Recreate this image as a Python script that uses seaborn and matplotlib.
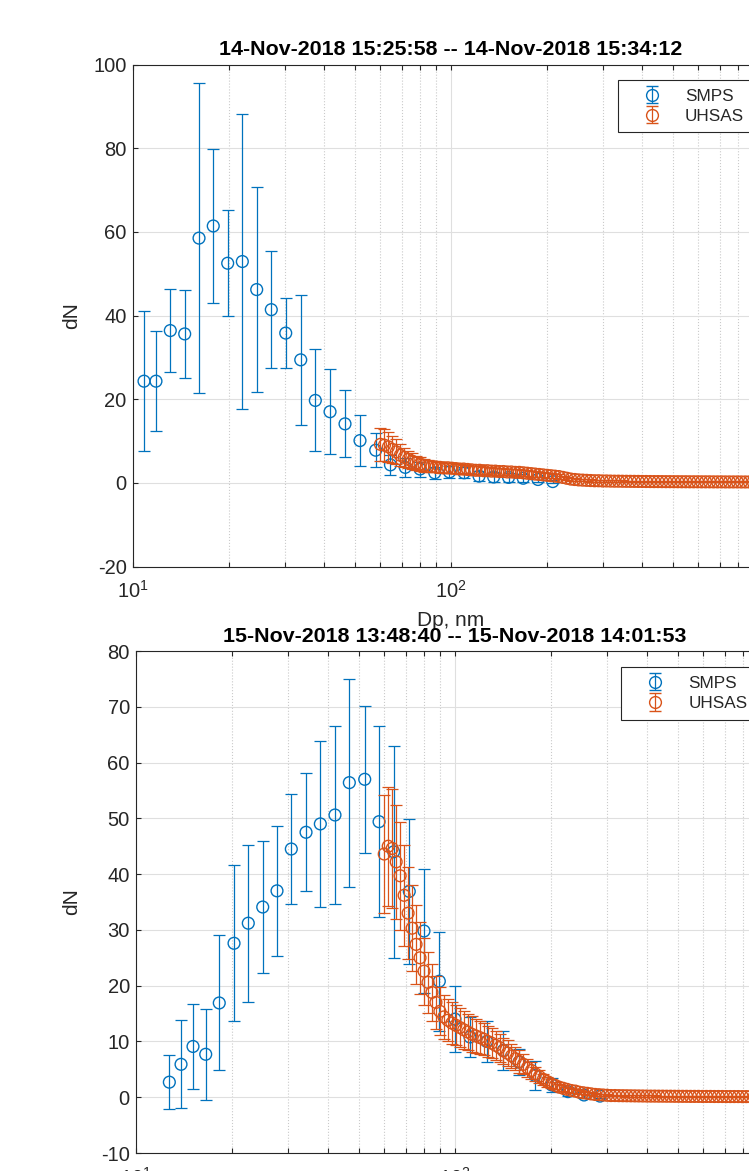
"""
Two SMPS / UHSAS size distributions (dN vs Dp) on log x axes,
drawn in the look of a MATLAB errorbar figure.
"""

import numpy as np
import pandas as pd
import matplotlib
matplotlib.use("Agg")
import matplotlib.pyplot as plt
from matplotlib.ticker import LogLocator, NullFormatter, FixedLocator
import seaborn as sns

SMPS_COLOR = "#0072BD"
UHSAS_COLOR = "#D95319"
AX_COLOR = "#262626"

# ---- panel 1: 14-Nov-2018 ----
title_top = "14-Nov-2018 15:25:58 -- 14-Nov-2018 15:34:12"
smps_dp_top = [10.83, 11.81, 13.10, 14.54, 16.13, 17.88, 19.85, 22.07, 24.49, 27.22,
               30.22, 33.69, 37.44, 41.65, 46.42, 51.74, 57.97, 64.5, 71.8, 79.9,
               88.9, 98.9, 110.0, 122.5, 136.2, 151.7, 168.7, 187.7, 208.9]
smps_dn_top = [24.3, 24.3, 36.4, 35.6, 58.5, 61.4, 52.5, 52.9, 46.2, 41.4,
               35.8, 29.4, 19.7, 17.0, 14.1, 10.1, 7.8, 4.3, 3.7, 3.3,
               2.4, 2.6, 2.4, 1.6, 1.4, 1.3, 1.1, 0.8, 0.3]
smps_err_top = [16.8, 12.0, 10.0, 10.5, 37.0, 18.4, 12.7, 35.2, 24.6, 14.0,
                8.4, 15.5, 12.2, 10.2, 8.0, 6.1, 4.0, 2.4, 2.2, 1.8,
                1.5, 1.5, 1.3, 1.2, 1.1, 1.0, 0.9, 0.7, 0.4]

# UHSAS bins (same for both scans)
uhsas_dp = [60.0, 61.75, 63.55, 65.40, 67.30, 69.26, 71.28, 73.35, 75.49, 77.69,
            79.95, 82.28, 84.67, 87.14, 89.68, 92.29, 94.98, 97.75, 100.6, 103.5,
            106.5, 109.6, 112.8, 116.1, 119.5, 123.0, 126.6, 130.2, 134.0, 137.9,
            141.9, 146.1, 150.3, 154.7, 159.2, 163.9, 168.7, 173.6, 178.6, 183.8,
            189.2, 194.7, 200.4, 206.2, 212.2, 218.4, 224.8, 231.3, 238.1, 245.0,
            252.1, 259.5, 267.0, 274.8, 282.8, 291.1, 299.6, 308.3, 317.3, 326.5,
            336.0, 345.8, 355.9, 366.3, 376.9, 387.9, 399.2, 410.8, 422.8, 435.1,
            447.8, 460.8, 474.2, 488.1, 502.3, 516.9, 532.0, 547.5, 563.4, 579.8,
            596.7, 614.1, 632.0, 650.4, 669.3, 688.8, 708.9, 729.5, 750.8, 772.6,
            795.1, 818.3, 842.1, 866.6, 891.9, 917.9, 944.6, 972.1, 1000.0]

uhsas_dn_top = [9.2, 9.0, 8.6, 8.0, 7.4, 6.6, 6.1, 5.6, 5.2, 4.8,
                4.5, 4.2, 4.0, 3.9, 3.8, 3.7, 3.6, 3.6, 3.5, 3.4,
                3.3, 3.3, 3.2, 3.1, 3.0, 3.0, 2.9, 2.9, 2.8, 2.8,
                2.7, 2.7, 2.6, 2.6, 2.5, 2.5, 2.4, 2.3, 2.2, 2.1,
                2.0, 1.9, 1.8, 1.7, 1.6, 1.5, 1.3, 1.1, 0.9, 0.8,
                0.7, 0.65, 0.6, 0.55, 0.5, 0.5, 0.45, 0.45, 0.42, 0.4,
                0.4, 0.38, 0.37, 0.36, 0.35, 0.34, 0.33, 0.32, 0.31, 0.3,
                0.3, 0.29, 0.28, 0.28, 0.27, 0.27, 0.26, 0.26, 0.25, 0.25,
                0.25, 0.24, 0.24, 0.24, 0.23, 0.23, 0.23, 0.22, 0.22, 0.22,
                0.22, 0.21, 0.21, 0.21, 0.21, 0.2, 0.2, 0.2, 0.2]
uhsas_err_top = [3.9, 3.8, 3.6, 3.3, 3.0, 2.6, 2.3, 2.1, 1.9, 1.7,
                 1.6, 1.5, 1.4, 1.35, 1.3, 1.25, 1.2, 1.2, 1.15, 1.1,
                 1.1, 1.05, 1.0, 1.0, 0.95, 0.95, 0.9, 0.9, 0.9, 0.85,
                 0.85, 0.85, 0.8, 0.8, 0.8, 0.75, 0.75, 0.7, 0.7, 0.65,
                 0.65, 0.6, 0.6, 0.55, 0.55, 0.5, 0.45, 0.4, 0.35, 0.32,
                 0.3, 0.28, 0.26, 0.25, 0.24, 0.23, 0.22, 0.21, 0.2, 0.2,
                 0.19, 0.19, 0.18, 0.18, 0.18, 0.17, 0.17, 0.17, 0.16, 0.16,
                 0.16, 0.16, 0.15, 0.15, 0.15, 0.15, 0.14, 0.14, 0.14, 0.14,
                 0.14, 0.13, 0.13, 0.13, 0.13, 0.13, 0.13, 0.12, 0.12, 0.12,
                 0.12, 0.12, 0.12, 0.12, 0.12, 0.12, 0.12, 0.12, 0.12]

# ---- panel 2: 15-Nov-2018 ----
title_bot = "15-Nov-2018 13:48:40 -- 15-Nov-2018 14:01:53"
smps_dp_bot = [12.72, 13.84, 15.09, 16.54, 18.24, 20.29, 22.49, 24.96, 27.67, 30.68,
               34.12, 37.83, 42.05, 46.64, 52.12, 57.8, 64.23, 71.89, 79.94, 89.3,
               100.0, 111.4, 125.7, 141.7, 158.7, 178.1, 201.0, 226.1, 253.8, 284.8]
smps_dn_bot = [2.7, 5.9, 9.1, 7.7, 16.9, 27.6, 31.2, 34.1, 37.0, 44.5,
               47.5, 49.0, 50.6, 56.4, 57.0, 49.4, 44.0, 36.9, 29.8, 20.8,
               14.0, 10.8, 10.0, 8.4, 6.3, 3.9, 2.2, 1.0, 0.4, 0.2]
smps_err_bot = [4.85, 7.9, 7.7, 8.2, 12.1, 13.95, 14.05, 11.85, 11.7, 9.9,
                10.6, 14.95, 15.9, 18.65, 13.15, 17.15, 19.05, 13.0, 11.15, 8.9,
                5.9, 3.5, 3.6, 3.5, 2.4, 2.6, 1.2, 0.8, 0.5, 0.3]

uhsas_dn_bot = [43.6, 45.0, 44.6, 42.2, 39.7, 36.2, 33.0, 30.3, 27.4, 25.0,
                22.6, 20.6, 18.8, 17.0, 15.4, 14.4, 13.8, 13.3, 12.9, 12.5,
                12.1, 11.7, 11.3, 11.0, 10.7, 10.4, 10.0, 9.7, 9.3, 8.9,
                8.3, 7.9, 7.4, 6.9, 6.4, 5.9, 5.3, 4.8, 4.2, 3.7,
                3.2, 2.8, 2.4, 2.1, 1.8, 1.6, 1.4, 1.2, 1.1, 0.9,
                0.8, 0.7, 0.6, 0.5, 0.45, 0.4, 0.35, 0.3, 0.3, 0.28,
                0.27, 0.26, 0.25, 0.24, 0.23, 0.22, 0.21, 0.2, 0.2, 0.19,
                0.19, 0.18, 0.18, 0.17, 0.17, 0.16, 0.16, 0.15, 0.15, 0.15,
                0.14, 0.14, 0.14, 0.13, 0.13, 0.13, 0.12, 0.12, 0.12, 0.12,
                0.11, 0.11, 0.11, 0.11, 0.1, 0.1, 0.1, 0.1, 0.1]
uhsas_err_bot = [10.5, 10.7, 10.6, 10.2, 9.7, 9.0, 8.3, 7.7, 7.1, 6.5,
                 6.0, 5.5, 5.1, 4.7, 4.3, 4.0, 3.8, 3.7, 3.6, 3.5,
                 3.4, 3.3, 3.2, 3.1, 3.0, 2.9, 2.8, 2.7, 2.6, 2.5,
                 2.4, 2.3, 2.2, 2.1, 2.0, 1.8, 1.6, 1.5, 1.3, 1.2,
                 1.0, 0.9, 0.8, 0.7, 0.6, 0.55, 0.5, 0.45, 0.4, 0.35,
                 0.3, 0.3, 0.25, 0.22, 0.2, 0.2, 0.18, 0.16, 0.15, 0.15,
                 0.14, 0.14, 0.13, 0.13, 0.13, 0.12, 0.12, 0.12, 0.11, 0.11,
                 0.11, 0.11, 0.1, 0.1, 0.1, 0.1, 0.1, 0.1, 0.09, 0.09,
                 0.09, 0.09, 0.09, 0.09, 0.09, 0.08, 0.08, 0.08, 0.08, 0.08,
                 0.08, 0.08, 0.08, 0.08, 0.08, 0.08, 0.08, 0.08, 0.08]

yticks_top = [-20, 0, 20, 40, 60, 80, 100]
yticks_bot = [-10, 0, 10, 20, 30, 40, 50, 60, 70, 80]

CAP = 4.0
MARKER_S = 72
LW = 0.9


def draw_series(ax, dp, dn, err, color, z):
    df = pd.DataFrame({"Dp": dp, "dN": dn, "err": err})
    ax.errorbar(df["Dp"], df["dN"], yerr=df["err"], fmt="none", ecolor=color,
                elinewidth=LW, capsize=CAP, capthick=LW, zorder=z)
    sns.scatterplot(data=df, x="Dp", y="dN", ax=ax, marker="o", s=MARKER_S,
                    facecolor="none", edgecolor=color, linewidth=1.0,
                    zorder=z + 0.1, legend=False)


def legend_proxy(ax, color, label):
    return ax.errorbar([np.nan], [np.nan], yerr=[np.nan], fmt="o", mfc="none",
                       mec=color, mew=1.0, ms=8.5, color=color, ecolor=color,
                       elinewidth=LW, capsize=CAP, capthick=LW, label=label)


def draw_panel(ax, title, smps, uhsas, ylim, yticks, legend_xy, ylabel_x):
    draw_series(ax, *smps, SMPS_COLOR, 2.0)
    draw_series(ax, *uhsas, UHSAS_COLOR, 2.2)

    ax.set_xscale("log")
    ax.set_xlim(10, 1000)
    ax.set_ylim(*ylim)
    ax.yaxis.set_major_locator(FixedLocator(yticks))
    ax.xaxis.set_major_locator(LogLocator(base=10, numticks=10))
    ax.xaxis.set_minor_locator(LogLocator(base=10, subs=np.arange(2, 10), numticks=20))
    ax.xaxis.set_minor_formatter(NullFormatter())

    ax.set_axisbelow(True)
    ax.grid(True, which="major", axis="both", color="#DFDFDF", linewidth=0.8, linestyle="-")
    ax.grid(True, which="minor", axis="x", color="#CACACA", linewidth=0.8, linestyle=":")

    ax.tick_params(which="both", direction="in", top=True, bottom=True, left=True,
                   right=True, length=3.6, width=0.8, color=AX_COLOR)
    ax.tick_params(axis="x", which="major", pad=10, labelsize=14.5, labelcolor=AX_COLOR)
    ax.tick_params(axis="y", pad=4.5, labelsize=14.5, labelcolor=AX_COLOR)
    for sp in ax.spines.values():
        sp.set_color(AX_COLOR)
        sp.set_linewidth(0.8)

    ax.set_title(title, fontsize=15.4, fontweight="bold", color="black", pad=6.5)
    ax.set_xlabel("Dp, nm", fontsize=15, color=AX_COLOR)
    ax.set_ylabel("dN", fontsize=15, color=AX_COLOR)
    ax.xaxis.set_label_coords(0.5, -0.088)
    ax.yaxis.set_label_coords(ylabel_x, 0.5)

    h1 = legend_proxy(ax, SMPS_COLOR, "SMPS")
    h2 = legend_proxy(ax, UHSAS_COLOR, "UHSAS")
    leg = ax.legend(handles=[h1, h2], loc="upper left", bbox_to_anchor=legend_xy,
                    borderaxespad=0, fontsize=12.3, frameon=True, fancybox=False,
                    edgecolor=AX_COLOR, framealpha=1, borderpad=0.5,
                    labelspacing=0.3, handlelength=3.0, handletextpad=0.45)
    leg.get_frame().set_linewidth(0.8)


def main():
    sns.set_theme(style="white")
    plt.rcParams["font.family"] = ["Liberation Sans", "DejaVu Sans"]
    plt.rcParams["axes.unicode_minus"] = False

    fig = plt.figure(figsize=(7.49, 11.71), dpi=100, facecolor="white")
    # axes run past the right edge of the canvas, as in the cropped original
    ax_top = fig.add_axes([0.17757, 0.51622, 0.84913, 0.42869])
    ax_bot = fig.add_axes([0.18158, 0.01537, 0.85180, 0.42869])

    draw_panel(ax_top, title_top,
               (smps_dp_top, smps_dn_top, smps_err_top),
               (uhsas_dp, uhsas_dn_top, uhsas_err_top),
               (-20, 100), yticks_top, (0.762, 0.969), -0.082)
    draw_panel(ax_bot, title_bot,
               (smps_dp_bot, smps_dn_bot, smps_err_bot),
               (uhsas_dp, uhsas_dn_bot, uhsas_err_bot),
               (-10, 80), yticks_bot, (0.760, 0.9675), -0.086)

    fig.savefig("out.png", dpi=100)
    plt.close(fig)


if __name__ == "__main__":
    main()
